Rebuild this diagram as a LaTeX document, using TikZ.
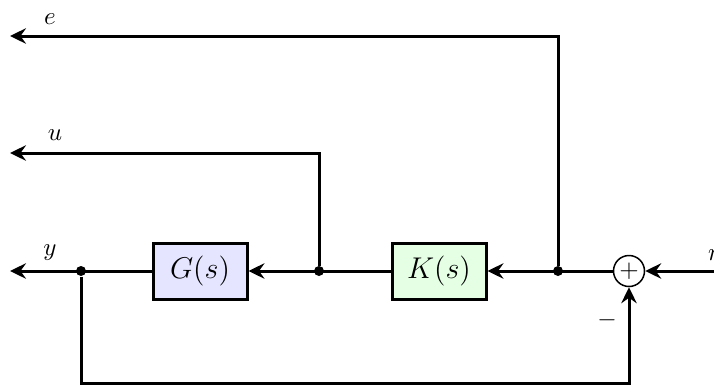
\documentclass[tikz,border=0pt]{standalone}
\usetikzlibrary{arrows.meta}
\begin{document}
\begin{tikzpicture}[x=0.4pt,y=-0.4pt,
  sig/.style={line width=1.2pt},
  arr/.style={sig,-{Stealth[length=6.4pt,width=6.2pt,inset=2.2pt]}},
  block/.style={draw,line width=1.2pt,minimum width=37.6pt,minimum height=22.4pt,inner sep=0pt,
    font=\fontsize{11.5pt}{14pt}\selectfont},
  dot/.style={circle,fill,inner sep=0pt,minimum size=4pt},
  sumnode/.style={circle,draw,line width=0.6pt,minimum size=12.4pt,inner sep=0pt},
  lbl/.style={inner sep=0pt}]
\useasboundingbox (0,0) rectangle (714,388);

% blocks and summing junction
\node[block,fill=blue!10]  (G) at (200,271) {$G(s)$};
\node[block,fill=green!10] (K) at (439,271) {$K(s)$};
\node[sumnode] (S) at (629,271) {$+$};

% branch points
\node[dot] (j1) at (558,271) {};
\node[dot] (j2) at (319,271) {};
\node[dot] (j3) at (81,271) {};

% signal ends
\coordinate (rin)  at (745,271);
\coordinate (eout) at (10,36);
\coordinate (uout) at (10,153);
\coordinate (yout) at (10,271);
\coordinate (low)  at (0,383);

% signals
\draw[arr] (rin) -- (S);
\draw[arr] (S) -- (K);
\draw[arr] (K) -- (G);
\draw[arr] (G) -- (yout);
\draw[arr] (j1) |- (eout);
\draw[arr] (j2) |- (uout);
\draw[arr] (j3) -- (j3 |- low) -| (S.south);

% labels
\node[lbl] (le) at (50,19)  {$e$};
\node[lbl] (lu) at (55,135) {$u$};
\node[lbl] (ly) at (50,253) {$y$};
\node[lbl] (lr) at (714,255) {$r$};
\node[lbl] (lm) at (607,320) {$-$};
\end{tikzpicture}
\end{document}
